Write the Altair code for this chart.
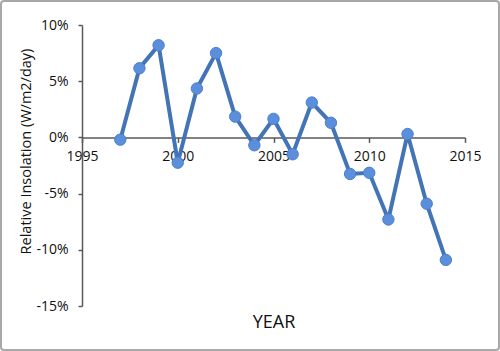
import altair as alt
import pandas as pd

years = [1997, 1998, 1999, 2000, 2001, 2002, 2003, 2004, 2005, 2006, 2007,
         2008, 2009, 2010, 2011, 2012, 2013, 2014]
values = [-0.2, 6.15, 8.2, -2.25, 4.35, 7.5, 1.85, -0.7, 1.65, -1.5, 3.1,
          1.3, -3.25, -3.15, -7.3, 0.3, -5.9, -10.9]
x_ticks = [1995, 2000, 2005, 2010, 2015]
y_ticks = [-15, -10, -5, 0, 5, 10]

df = pd.DataFrame({"year": years, "value": [v / 100 for v in values]})

W, H = 383, 281
FONT = "Open Sans"
AX = "#595959"

x = alt.X("year:Q",
          scale=alt.Scale(domain=[1995, 2015], nice=False, zero=False),
          axis=alt.Axis(values=x_ticks, format="d", offset=-168.6,
                        title="YEAR", titleFontSize=18, titleFontWeight="normal",
                        titleFont=FONT, titleColor="#111",
                        titleBaseline="middle", titleY=185.5, titleX=W / 2,
                        labelFontSize=14, labelFont=FONT, labelColor="#111",
                        labelPadding=7, tickSize=5, tickColor=AX, domainColor=AX,
                        domainWidth=1.5, tickWidth=1.5, grid=False,
                        labelFlush=False))
y = alt.Y("value:Q",
          scale=alt.Scale(domain=[-0.15, 0.10], nice=False, zero=False),
          axis=alt.Axis(values=[v / 100 for v in y_ticks], format=".0%",
                        labelExpr="replace(datum.label, '\u2212', '-')",
                        title="Relative Insolation (W/m2/day)",
                        titleFontSize=14.5, titleFontWeight="normal",
                        titleFont=FONT, titleColor="#111",
                        titleAngle=270, titleBaseline="middle", titleAlign="center",
                        titleX=-56, titleY=126,
                        labelFontSize=14, labelFont=FONT, labelColor="#111",
                        labelPadding=10, tickSize=4, tickColor=AX, domainColor=AX,
                        domainWidth=1.5, tickWidth=1.5, grid=False))

line = alt.Chart(df).mark_line(color="#4374b5", strokeWidth=4).encode(x=x, y=y)
pts = alt.Chart(df).mark_circle(size=130, opacity=1, color="#5b8fdc",
                                stroke="#4a80cf", strokeWidth=1).encode(x=x, y=y)

border = alt.Chart(pd.DataFrame({"a": [0]})).mark_rect(
    fill=None, stroke="#a8a8a8", strokeWidth=2, cornerRadius=3
).encode(x=alt.value(-81), x2=alt.value(W + 34), y=alt.value(-24),
         y2=alt.value(H + 44))

chart = alt.layer(border, line, pts).properties(
    width=W, height=H,
    autosize=alt.AutoSizeParams(type="none"),
    padding={"left": 82, "top": 25, "right": 35, "bottom": 45},
    background="white",
).configure_view(stroke=None)

chart.save("out.html", embed_options={"renderer": "svg", "actions": False})
